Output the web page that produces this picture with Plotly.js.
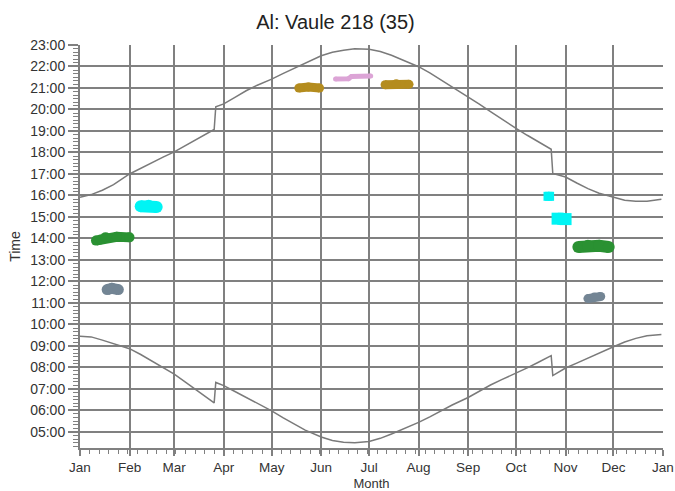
<!DOCTYPE html>
<html><head><meta charset="utf-8">
<script src="https://cdn.plot.ly/plotly-3.0.1.min.js"></script>
<style>html,body{margin:0;padding:0;background:#fff}#chart{width:675px;height:491px}</style>
</head><body><div id="chart"></div>
<script>
// Sunset curve
const sunsetDates = ['2015-01-01','2015-01-08','2015-01-15','2015-01-22','2015-02-01','2015-02-08','2015-02-15','2015-02-22','2015-03-01','2015-03-08','2015-03-15','2015-03-22','2015-03-26','2015-03-27','2015-04-01','2015-04-08','2015-04-15','2015-04-22','2015-05-01','2015-05-08','2015-05-15','2015-05-22','2015-06-01','2015-06-08','2015-06-15','2015-06-22','2015-07-01','2015-07-08','2015-07-15','2015-07-22','2015-08-01','2015-08-08','2015-08-15','2015-08-22','2015-09-01','2015-09-08','2015-09-15','2015-09-22','2015-10-01','2015-10-08','2015-10-15','2015-10-23','2015-10-24','2015-11-01','2015-11-08','2015-11-15','2015-11-22','2015-12-01','2015-12-08','2015-12-15','2015-12-22','2015-12-31'];
const sunsetHours = [15.92,16.04,16.24,16.5,17.0,17.27,17.53,17.78,18.03,18.33,18.62,18.9,19.07,20.12,20.26,20.56,20.87,21.13,21.41,21.67,21.91,22.15,22.5,22.66,22.76,22.82,22.8,22.7,22.52,22.3,21.99,21.7,21.38,21.05,20.6,20.25,19.9,19.55,19.12,18.8,18.49,18.15,17.02,16.86,16.58,16.32,16.1,15.9,15.78,15.73,15.73,15.82];
// Sunrise curve
const sunriseDates = ['2015-01-01','2015-01-08','2015-01-15','2015-01-22','2015-02-01','2015-02-08','2015-02-15','2015-02-22','2015-03-01','2015-03-08','2015-03-15','2015-03-22','2015-03-26','2015-03-27','2015-04-01','2015-04-08','2015-04-15','2015-04-22','2015-05-01','2015-05-08','2015-05-15','2015-05-22','2015-06-01','2015-06-08','2015-06-15','2015-06-22','2015-07-01','2015-07-08','2015-07-15','2015-07-22','2015-08-01','2015-08-08','2015-08-15','2015-08-22','2015-09-01','2015-09-08','2015-09-15','2015-09-22','2015-10-01','2015-10-08','2015-10-15','2015-10-23','2015-10-24','2015-11-01','2015-11-08','2015-11-15','2015-11-22','2015-12-01','2015-12-08','2015-12-15','2015-12-22','2015-12-31'];
const sunriseHours = [9.45,9.42,9.27,9.1,8.87,8.6,8.31,8.0,7.69,7.32,6.95,6.57,6.35,7.30,7.15,6.88,6.6,6.3,5.98,5.66,5.36,5.08,4.76,4.6,4.52,4.49,4.55,4.7,4.9,5.12,5.44,5.7,5.98,6.25,6.6,6.9,7.18,7.43,7.72,7.98,8.24,8.55,7.62,7.97,8.2,8.44,8.68,8.96,9.18,9.35,9.47,9.53];

// Observation clusters
const greenJanDates = ['2015-01-11','2015-01-14','2015-01-17','2015-01-24','2015-02-01'];
const greenJanHours = [13.9,13.95,14.06,14.08,14.05];
const grayJanDates = ['2015-01-18','2015-01-21','2015-01-25'];
const grayJanHours = [11.62,11.68,11.62];
const cyanFebDates = ['2015-02-08','2015-02-13','2015-02-18'];
const cyanFebHours = [15.5,15.52,15.46];
const goldMayDates = ['2015-05-18','2015-05-24','2015-05-31'];
const goldMayHours = [21.0,21.05,21.0];
const pinkJunDates = ['2015-06-10','2015-06-18','2015-06-20','2015-07-02'];
const pinkJunHours = [21.42,21.43,21.54,21.56];
const goldJulDates = ['2015-07-11','2015-07-18','2015-07-26'];
const goldJulHours = [21.15,21.2,21.17];
const cyanOctDates = ['2015-10-21','2015-10-22'];
const cyanOctHours = [15.96,15.96];
const cyanNovDates = ['2015-10-27','2015-11-01'];
const cyanNovHours = [14.92,14.9];
const greenNovDates = ['2015-11-09','2015-11-15','2015-11-22','2015-11-28'];
const greenNovHours = [13.6,13.66,13.66,13.6];
const grayNovDates = ['2015-11-15','2015-11-19','2015-11-23'];
const grayNovHours = [11.2,11.27,11.3];

const hourTicks = [5,6,7,8,9,10,11,12,13,14,15,16,17,18,19,20,21,22,23];
const hourLabels = hourTicks.map(h => (h<10?'0':'') + h + ':00');

function curve(x, y) {
  return {x: x, y: y, type: 'scatter', mode: 'lines', line: {color: '#7a7a7a', width: 1.5}, hoverinfo: 'skip'};
}
function blob(x, y, color, size, symbol) {
  return {x: x, y: y, type: 'scatter', mode: 'lines+markers',
    line: {color: color, width: size}, marker: {color: color, size: size, symbol: symbol || 'circle'}, hoverinfo: 'skip'};
}

const traces = [
  curve(sunsetDates, sunsetHours),
  curve(sunriseDates, sunriseHours),
  blob(greenJanDates, greenJanHours, '#2a9132', 10),
  blob(grayJanDates, grayJanHours, '#738594', 11),
  blob(cyanFebDates, cyanFebHours, '#00f4f4', 12),
  blob(goldMayDates, goldMayHours, '#b48c1e', 9),
  blob(pinkJunDates, pinkJunHours, '#dca4d6', 5),
  blob(goldJulDates, goldJulHours, '#b48c1e', 9),
  blob(cyanOctDates, cyanOctHours, '#00f4f4', 9, 'square'),
  blob(cyanNovDates, cyanNovHours, '#00f4f4', 12, 'square'),
  blob(greenNovDates, greenNovHours, '#2a9132', 12),
  blob(grayNovDates, grayNovHours, '#738594', 9)
];

const layout = {
  width: 675, height: 491,
  margin: {l: 80, r: 12, t: 45, b: 43},
  paper_bgcolor: '#fff', plot_bgcolor: '#fff',
  showlegend: false,
  font: {family: 'Liberation Sans, Arial, sans-serif', color: '#333'},
  title: {text: 'Al: Vaule 218 (35)', x: 0.497, xanchor: 'center', y: 0.955, yanchor: 'middle',
          font: {size: 20, color: '#222'}},
  xaxis: {
    type: 'date', range: ['2015-01-01', '2016-01-01'],
    tickmode: 'linear', tick0: '2015-01-01', dtick: 'M1', tickformat: '%b',
    showgrid: true, gridcolor: '#808080', gridwidth: 2,
    showline: true, linecolor: '#808080', linewidth: 2,
    ticks: 'outside', ticklen: 6, tickwidth: 2, tickcolor: '#808080',
    minor: {dtick: 6*86400000, tick0: '2015-01-01', ticks: 'outside', ticklen: 4, tickwidth: 1, tickcolor: '#808080', showgrid: false},
    tickfont: {size: 13.5, color: '#333'},
    zeroline: false,
    title: {text: 'Month', font: {size: 13, color: '#333'}, standoff: 5}
  },
  yaxis: {
    range: [4.25, 23],
    tickmode: 'array', tickvals: hourTicks, ticktext: hourLabels,
    showgrid: true, gridcolor: '#808080', gridwidth: 2,
    showline: true, linecolor: '#808080', linewidth: 2,
    ticks: 'outside', ticklen: 10, tickwidth: 2, tickcolor: '#808080',
    minor: {dtick: 1/6, tick0: 0, ticks: 'outside', ticklen: 5, tickwidth: 1, tickcolor: '#808080', showgrid: false},
    tickfont: {size: 14, color: '#333'},
    zeroline: false,
    title: {text: 'Time', font: {size: 14, color: '#333'}, standoff: 6}
  }
};

Plotly.newPlot('chart', traces, layout, {displayModeBar: false, staticPlot: true});
</script>
</body></html>
